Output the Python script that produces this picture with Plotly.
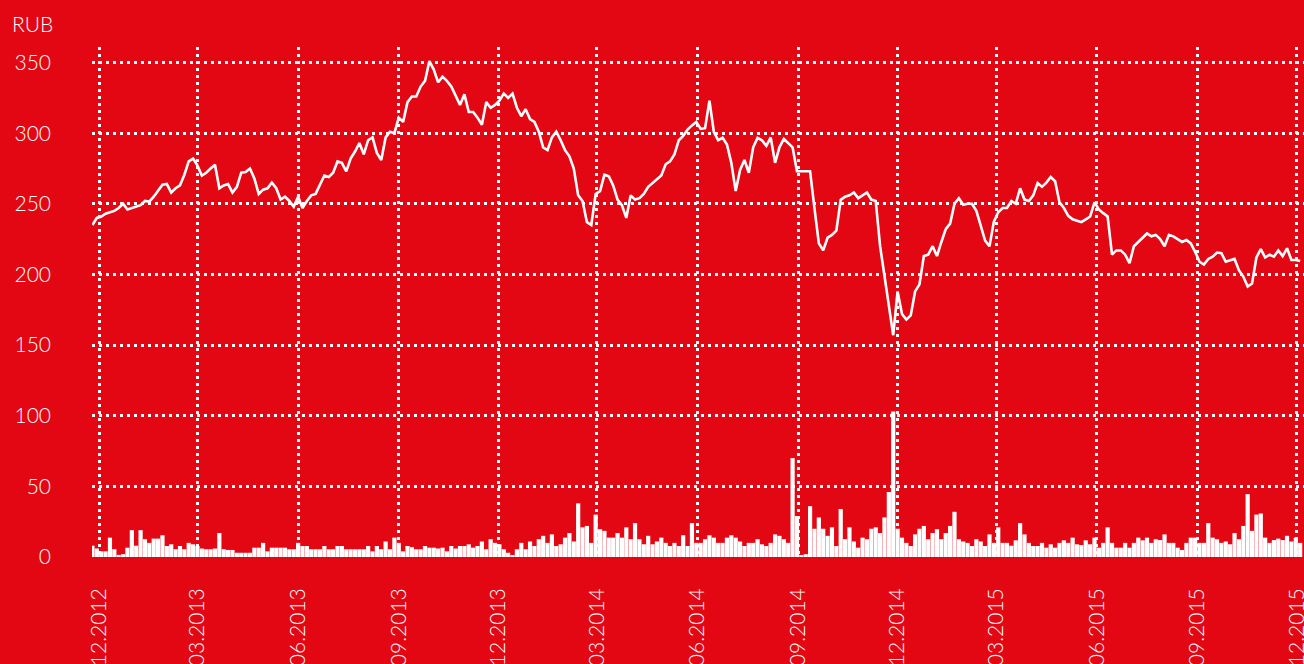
import pandas as pd
import plotly.graph_objects as go

# Observation dates: one reading every 4 days from late Nov 2012
dates = pd.date_range("2012-11-25", periods=277, freq="4D")

# Share price, RUB
price = [
    235, 240, 241, 243, 244, 245, 247, 250, 246, 247,
    248, 249, 252, 251.6, 255, 259, 263.5, 264, 258, 261,
    263, 270.6, 280, 282, 277, 270, 272, 275, 277.7, 261,
    263, 264, 258, 262, 272, 272.5, 275, 268, 257, 260,
    261, 265, 261, 253, 255, 252, 248, 255, 247, 252,
    256, 257, 263, 270, 269, 272, 280, 279, 273, 282,
    287, 293, 285, 295, 297, 286, 281, 297, 301, 300,
    311, 308, 322, 326, 326, 333, 337, 351, 345, 336,
    340, 337, 333, 327, 320, 327.5, 315, 315, 311, 306,
    322, 318, 320, 323, 328, 325, 328, 318, 312, 317,
    310, 308, 301, 290, 288, 297, 301, 295, 288, 283.6,
    275, 256, 252, 237, 235, 257, 259, 270.6, 269.5, 263,
    253, 249, 240, 256, 253, 254, 257, 262, 264.7, 267,
    270, 278, 280, 285, 295, 298, 302.6, 305.5, 308, 303,
    303.5, 323, 301, 295, 296.7, 292, 279, 259, 274, 281,
    272, 290, 296.7, 295, 291, 297, 279, 290, 296, 293,
    290, 273, 273, 273, 273, 247, 222, 217, 226, 228,
    231, 252.8, 255, 256, 258, 254, 256, 258, 253, 252,
    220, 200, 180, 157, 188, 172, 168, 171, 188, 193,
    213, 214, 220, 213, 223, 232, 236, 250, 254, 249.3,
    250, 250, 245, 234, 224, 220, 237.4, 244, 247, 247,
    252, 250, 261, 253, 252, 256, 264.7, 262, 265, 269,
    266, 251, 247, 241.5, 239, 238, 237, 239, 241, 251,
    246, 243.4, 241, 214, 217, 217, 214, 208, 220, 223,
    226, 229, 227, 228, 225, 220, 228, 227, 225, 223,
    224.4, 222, 216, 209, 207, 211, 212.6, 215.5, 215, 209,
    210, 211, 203, 198.5, 191.5, 193.6, 212, 218, 212, 214,
    212.6, 217, 213, 218.5, 210.2, 210.2, 209.5,
]

# Trading volume, drawn on the same scale
volume = [
    8, 6, 4, 4, 13.7, 5.5, 1.5, 2, 6.6, 19,
    8, 19, 12.6, 10, 13, 13, 15.4, 7.8, 9, 5.5,
    7.8, 5.5, 10, 9, 7.8, 6, 5.5, 5.5, 6, 17,
    5.5, 5, 5, 3, 3, 3, 3, 6.6, 6.6, 10,
    4, 6.6, 6.6, 6.6, 6.6, 5.5, 5.5, 10, 7.8, 7.8,
    5.5, 5.5, 5.5, 7.8, 5.5, 5.5, 7.8, 7.8, 5.5, 5.5,
    5.5, 5.5, 5.5, 7.8, 4, 7.8, 5.5, 11, 5.5, 13.7,
    10, 4, 7.8, 7, 5.5, 5.5, 7.8, 6.6, 6.6, 6,
    6.6, 4, 7.8, 6, 7.8, 7.8, 9, 6.6, 7.8, 11,
    5.5, 12.6, 10, 9, 5.5, 3, 1, 5.5, 10, 5.5,
    11, 7.8, 12.6, 15, 10, 16, 7.8, 9, 13.7, 17,
    11, 38, 21, 22, 10, 30, 19.7, 18.5, 13.7, 13.7,
    17, 13.7, 21, 12.6, 24, 12.6, 9, 15, 9, 11,
    13.7, 10, 7.8, 10, 7.8, 15.4, 7.8, 24, 10, 10,
    12.6, 15.4, 13.7, 10, 10, 13.7, 15.4, 13.7, 11, 7.8,
    10, 10, 12.6, 9, 7.8, 10, 16, 15, 12.6, 10,
    70, 29, 1, 2, 36, 20, 28, 20, 15, 21,
    7.8, 34, 12.6, 21, 11, 6.6, 13.7, 12.6, 20, 21,
    17, 28, 46, 103, 20, 13.7, 10, 7.8, 16, 20,
    22, 12.6, 17, 19.7, 12.6, 17, 22, 32, 12.6, 11,
    10, 7.8, 12.6, 11, 7.8, 16, 10, 21, 10, 10,
    8, 11.8, 24, 16, 10, 7.8, 7.8, 10, 6.6, 9,
    6.6, 10, 11.8, 10, 13.7, 9, 8.5, 11.8, 9, 13.7,
    6.6, 10, 21, 10, 6.6, 6.6, 10, 6.6, 10, 13.7,
    11.8, 13.7, 10, 12.6, 12, 16, 10, 10, 6.6, 5,
    10, 13.7, 13.7, 10, 10, 24, 13.7, 12.6, 10, 11,
    9, 17, 12.6, 22, 44.5, 18.5, 30, 30.8, 13.7, 10,
    12, 13, 12, 15, 11, 13.7, 10,
]

# Quarterly ticks
tick_dates = ["2012-12-01", "2013-03-01", "2013-06-01", "2013-09-01",
              "2013-12-01", "2014-03-01", "2014-06-01", "2014-09-01",
              "2014-12-01", "2015-03-01", "2015-06-01", "2015-09-01",
              "2015-12-01"]
tick_labels = ["12.2012", "03.2013", "06.2013", "09.2013", "12.2013",
               "03.2014", "06.2014", "09.2014", "12.2014", "03.2015",
               "06.2015", "09.2015", "12.2015"]
y_ticks = [0, 50, 100, 150, 200, 250, 300, 350]

RED = "#E30613"
FONT = dict(family="Lato", size=21, color="white", weight=300)

fig = go.Figure()
fig.add_trace(go.Bar(x=dates, y=volume, marker=dict(color="white", line=dict(width=0)),
                     hoverinfo="skip"))
fig.add_trace(go.Scatter(x=dates, y=price, mode="lines",
                         line=dict(color="white", width=2.6)))

grid = dict(showgrid=True, gridcolor="white", gridwidth=2.5, griddash="2.5px,4.5px",
            zeroline=False, showline=False, ticks="", automargin=False,
            ticklabeloverflow="allow")

fig.update_layout(
    width=1304, height=664,
    margin=dict(l=92, r=0, t=47, b=107),
    paper_bgcolor=RED, plot_bgcolor=RED,
    showlegend=False, bargap=0.04,
    font=FONT,
    xaxis=dict(type="date", range=["2012-11-24 14:00", "2015-12-07 12:00"],
               tickvals=tick_dates, ticktext=tick_labels, tickangle=-90,
               ticklabelstandoff=26, tickfont=FONT, **grid),
    yaxis=dict(range=[0, 361], tickvals=y_ticks, ticklabelstandoff=40,
               tickfont=FONT, **grid),
    annotations=[dict(text="RUB", xref="paper", yref="paper", x=-0.0677, y=1.047,
                      xanchor="left", yanchor="middle", showarrow=False, font=FONT)],
)

fig.write_html("out.html")
